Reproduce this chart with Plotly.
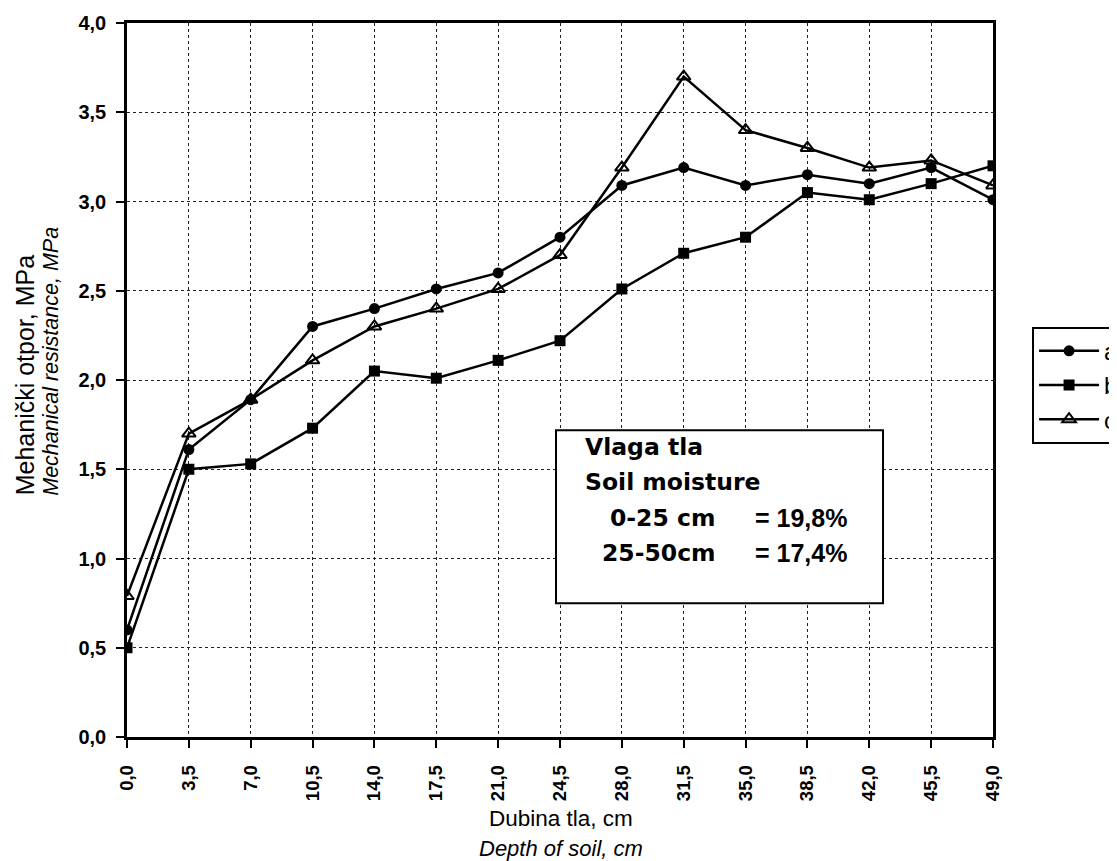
import plotly.graph_objects as go

depth = [0.0, 3.5, 7.0, 10.5, 14.0, 17.5, 21.0, 24.5, 28.0, 31.5, 35.0, 38.5, 42.0, 45.5, 49.0]
depth_labels = ["0,0", "3,5", "7,0", "10,5", "14,0", "17,5", "21,0", "24,5", "28,0", "31,5",
                "35,0", "38,5", "42,0", "45,5", "49,0"]
series_a = [0.60, 1.61, 1.89, 2.30, 2.40, 2.51, 2.60, 2.80, 3.09, 3.19, 3.09, 3.15, 3.10, 3.19, 3.01]
series_b = [0.50, 1.50, 1.53, 1.73, 2.05, 2.01, 2.11, 2.22, 2.51, 2.71, 2.80, 3.05, 3.01, 3.10, 3.20]
series_c = [0.79, 1.70, 1.89, 2.11, 2.30, 2.40, 2.51, 2.70, 3.19, 3.70, 3.40, 3.30, 3.19, 3.23, 3.09]
y_ticks = [0.0, 0.5, 1.0, 1.5, 2.0, 2.5, 3.0, 3.5, 4.0]
y_labels = ["0,0", "0,5", "1,0", "1,5", "2,0", "2,5", "3,0", "3,5", "4,0"]

SANS = "Liberation Sans, Arial, sans-serif"
HEAVY = "DejaVu Sans, Verdana, sans-serif"

fig = go.Figure()
styles = [
    ("a", series_a, dict(symbol="circle", size=11, color="black")),
    ("b", series_b, dict(symbol="square", size=11, color="black")),
    ("c", series_c, dict(symbol="triangle-up-open", size=12, color="black",
                         line=dict(width=2, color="black"))),
]
for name, ys, mk in styles:
    fig.add_trace(go.Scatter(x=depth, y=ys, name=name, mode="lines+markers",
                             line=dict(color="black", width=2.5), marker=mk))

fig.update_layout(
    width=1117, height=861,
    paper_bgcolor="white", plot_bgcolor="white",
    margin=dict(l=119, r=132, t=15, b=132, autoexpand=False),
    showlegend=True,
    legend=dict(xref="container", yref="container", x=0.9168, y=0.6298,
                xanchor="left", yanchor="top",
                bordercolor="black", borderwidth=2, bgcolor="white",
                font=dict(family=SANS, size=24, color="black"),
                itemwidth=60),
    font=dict(family=SANS, color="black"),
)
axis_common = dict(showgrid=True, gridcolor="#222", griddash="dot", gridwidth=1,
                   showline=True, linecolor="black", linewidth=2.5, mirror=True,
                   ticks="outside", ticklen=8, tickwidth=1.5, tickcolor="black", zeroline=False,
                   automargin=False)
fig.update_xaxes(range=[0, 49], tickvals=depth, ticktext=depth_labels, tickangle=-90,
                 ticklabelstandoff=10,
                 tickfont=dict(family=SANS, size=18.5, color="black", weight="bold"),
                 **axis_common)
fig.update_yaxes(range=[0, 4], tickvals=y_ticks, ticktext=y_labels,
                 ticklabelstandoff=6,
                 tickfont=dict(family=SANS, size=20, color="black", weight="bold"),
                 **axis_common)

# axis titles
fig.add_annotation(xref="paper", yref="paper", x=-0.1178, y=0.3357, text="Mehanički otpor, MPa",
                   textangle=-90, showarrow=False, xanchor="center", yanchor="bottom",
                   font=dict(family=SANS, size=25, color="black"))
fig.add_annotation(xref="paper", yref="paper", x=-0.0878, y=0.3357,
                   text="<i>Mechanical resistance, MPa</i>",
                   textangle=-90, showarrow=False, xanchor="center", yanchor="bottom",
                   font=dict(family=SANS, size=21.5, color="black"))
fig.add_annotation(xref="paper", yref="paper", x=0.5012, y=-0.1145, text="Dubina tla, cm",
                   showarrow=False, xanchor="center", yanchor="middle",
                   font=dict(family=SANS, size=22.5, color="black"))
fig.add_annotation(xref="paper", yref="paper", x=0.5012, y=-0.1565, text="<i>Depth of soil, cm</i>",
                   showarrow=False, xanchor="center", yanchor="middle",
                   font=dict(family=SANS, size=22, color="black"))

# soil moisture box
fig.add_shape(type="rect", xref="paper", yref="paper", x0=0.4954, x1=0.873, y0=0.1873, y1=0.4296,
              line=dict(color="black", width=2), fillcolor="white", layer="above")
word_font = dict(family=HEAVY, size=23.5, color="black", weight="bold")
num_font = dict(family=SANS, size=25, color="black", weight="bold")
box_lines = [
    (0.5262, 0.4058, "Vlaga tla", word_font),
    (0.5262, 0.3568, "Soil moisture", word_font),
    (0.5554, 0.3064, "0-25 cm", word_font),
    (0.5462, 0.2573, "25-50cm", word_font),
    (0.7229, 0.3064, "= 19,8%", num_font),
    (0.7229, 0.2573, "= 17,4%", num_font),
]
for bx, by, txt, fnt in box_lines:
    fig.add_annotation(xref="paper", yref="paper", x=bx, y=by, text=txt,
                       xanchor="left", yanchor="middle", showarrow=False, font=fnt)

fig.write_html("out.html")
